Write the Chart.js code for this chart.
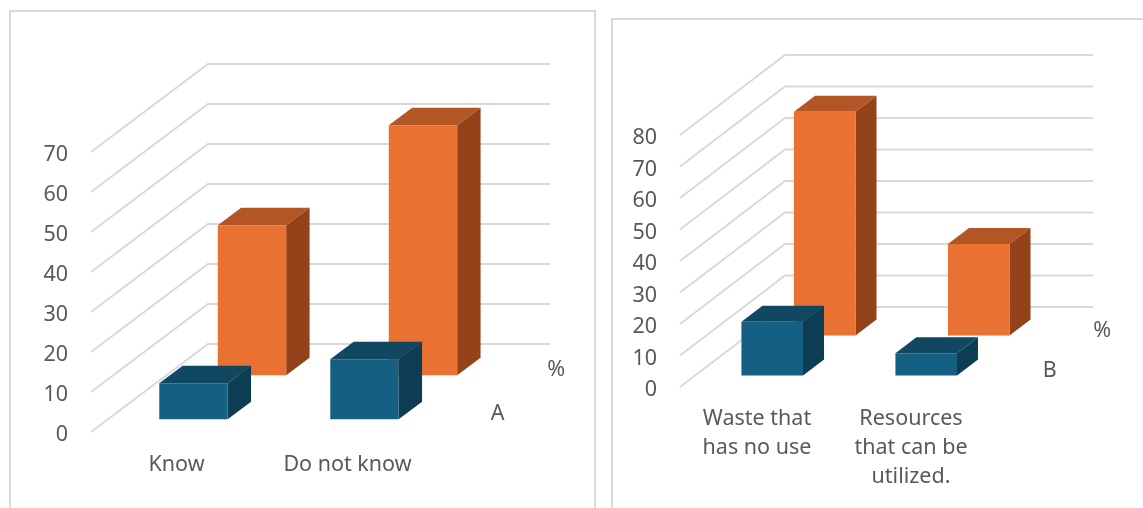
<!DOCTYPE html>
<html>
<head>
<meta charset="utf-8">
<title>Waste awareness</title>
<script src="https://cdn.jsdelivr.net/npm/chart.js@4"></script>
<style>
  html, body { margin: 0; padding: 0; background: #fff; overflow: hidden; }
  .panel { position: absolute; border: 2px solid #d9d9d9; border-bottom: 0; box-sizing: border-box; }
  #panelA { left: 9px; top: 10px; width: 587px; height: 498px; }
  #panelB { left: 611px; top: 18px; width: 560px; height: 490px; }
  canvas { position: absolute; top: 0; }
  #chartA { left: 0; }
  #chartB { left: 600px; }
</style>
</head>
<body>
<div class="panel" id="panelA"></div>
<div class="panel" id="panelB"></div>
<canvas id="chartA" width="600" height="508"></canvas>
<canvas id="chartB" width="543" height="508"></canvas>
<script>
const categoriesA = ['Know', 'Do not know'];
const frontValuesA = [9, 15];
const backValuesA = [37.5, 62.5];
const depthLabelsA = ['A', '%'];

const categoriesB = [['Waste that', 'has no use'], ['Resources', 'that can be', 'utilized.']];
const frontValuesB = [17, 7];
const backValuesB = [71, 29];
const depthLabelsB = ['B', '%'];

const TEXT_COLOR = '#595959';
const GRID_COLOR = '#d9d9d9';
const FONT = { family: '"Noto Sans", sans-serif', size: 21.5, lineHeight: 1.35 };

// each row: where it starts along the depth axis, and its three face colours
const ROWS = [
  { z: 0.145, front: '#156082', top: '#104862', side: '#0c3d53' },
  { z: 0.645, front: '#e97132', top: '#b35625', side: '#934219' },
];
const ROW_THICKNESS = 0.2;

const facePath = (ctx, points, color) => {
  ctx.fillStyle = color;
  ctx.beginPath();
  points.forEach(([x, y], i) => (i ? ctx.lineTo(x, y) : ctx.moveTo(x, y)));
  ctx.closePath();
  ctx.fill();
};

// Chart.js lays out flat bars; this shifts them along an oblique depth axis
// and adds the walls, top and side faces and the depth axis names.
const obliqueBars = {
  id: 'obliqueBars',
  beforeDatasetsDraw(chart, args, opts) {
    const { ctx, scales: { y }, chartArea: area } = chart;
    ctx.save();
    ctx.strokeStyle = GRID_COLOR;
    ctx.lineWidth = 2;
    y.ticks.forEach((tick) => {
      const py = y.getPixelForValue(tick.value);
      ctx.beginPath();
      ctx.moveTo(area.left, py);
      ctx.lineTo(area.left + opts.depthX, py - opts.depthY);
      ctx.lineTo(area.right + opts.depthX, py - opts.depthY);
      ctx.stroke();
    });
    ctx.restore();
  },
  beforeDatasetDraw(chart, args, opts) {
    const { ctx } = chart;
    const row = ROWS[args.index];
    const ddx = ROW_THICKNESS * opts.depthX;
    const ddy = ROW_THICKNESS * opts.depthY;
    ctx.save();
    ctx.translate(row.z * opts.depthX, -row.z * opts.depthY);
    args.meta.data.forEach((bar) => {
      const { x, y, base, width } = bar.getProps(['x', 'y', 'base', 'width'], true);
      const l = x - width / 2;
      const r = x + width / 2;
      facePath(ctx, [[l, y], [l + ddx, y - ddy], [r + ddx, y - ddy], [r, y]], row.top);
      facePath(ctx, [[r, y], [r + ddx, y - ddy], [r + ddx, base - ddy], [r, base]], row.side);
    });
  },
  afterDatasetDraw(chart) {
    chart.ctx.restore();
  },
  afterDatasetsDraw(chart, args, opts) {
    const { ctx, chartArea: area } = chart;
    ctx.save();
    ctx.fillStyle = TEXT_COLOR;
    ctx.font = `${FONT.size}px ${FONT.family}`;
    ctx.textAlign = 'center';
    ctx.textBaseline = 'middle';
    opts.labels.forEach((label, i) => {
      const z = ROWS[i].z + ROW_THICKNESS / 2;
      ctx.fillText(label, area.right + z * opts.depthX + 36, area.bottom - z * opts.depthY + 3);
    });
    ctx.restore();
  },
};

const makeChart = (id, cfg) => new Chart(document.getElementById(id), {
  type: 'bar',
  data: {
    labels: cfg.categories,
    datasets: [
      { label: cfg.depthLabels[0], data: cfg.front, backgroundColor: ROWS[0].front, clip: false },
      { label: cfg.depthLabels[1], data: cfg.back, backgroundColor: ROWS[1].front, clip: false },
    ],
  },
  options: {
    responsive: false,
    animation: false,
    layout: { padding: { top: cfg.top, right: cfg.right, left: 0, bottom: 0 } },
    datasets: { bar: { grouped: false, barPercentage: 0.4, categoryPercentage: 1 } },
    plugins: {
      legend: { display: false },
      tooltip: { enabled: false },
      obliqueBars: { depthX: cfg.depthX, depthY: cfg.depthY, labels: cfg.depthLabels },
    },
    scales: {
      x: {
        grid: { display: false, drawTicks: false },
        border: { display: false },
        ticks: { color: TEXT_COLOR, font: FONT, padding: cfg.labelGap, maxRotation: 0, autoSkip: false },
        afterFit: (scale) => { scale.height = cfg.xAxisHeight; },
      },
      y: {
        min: 0,
        max: cfg.max,
        grid: { display: false, drawTicks: false },
        border: { display: false },
        ticks: { color: TEXT_COLOR, font: FONT, padding: 23, stepSize: 10, autoSkip: false, labelOffset: 3 },
        afterFit: (scale) => { scale.width = cfg.yAxisWidth; },
      },
    },
  },
  plugins: [obliqueBars],
});

makeChart('chartA', {
  categories: categoriesA, front: frontValuesA, back: backValuesA, depthLabels: depthLabelsA,
  max: 70, top: 152, right: 167, yAxisWidth: 91, xAxisHeight: 76, labelGap: 18, depthX: 117, depthY: 88,
});
makeChart('chartB', {
  categories: categoriesB, front: frontValuesB, back: backValuesB, depthLabels: depthLabelsB,
  max: 80, top: 135, right: 155, yAxisWidth: 80, xAxisHeight: 121, labelGap: 17, depthX: 105, depthY: 80,
});
</script>
</body>
</html>
